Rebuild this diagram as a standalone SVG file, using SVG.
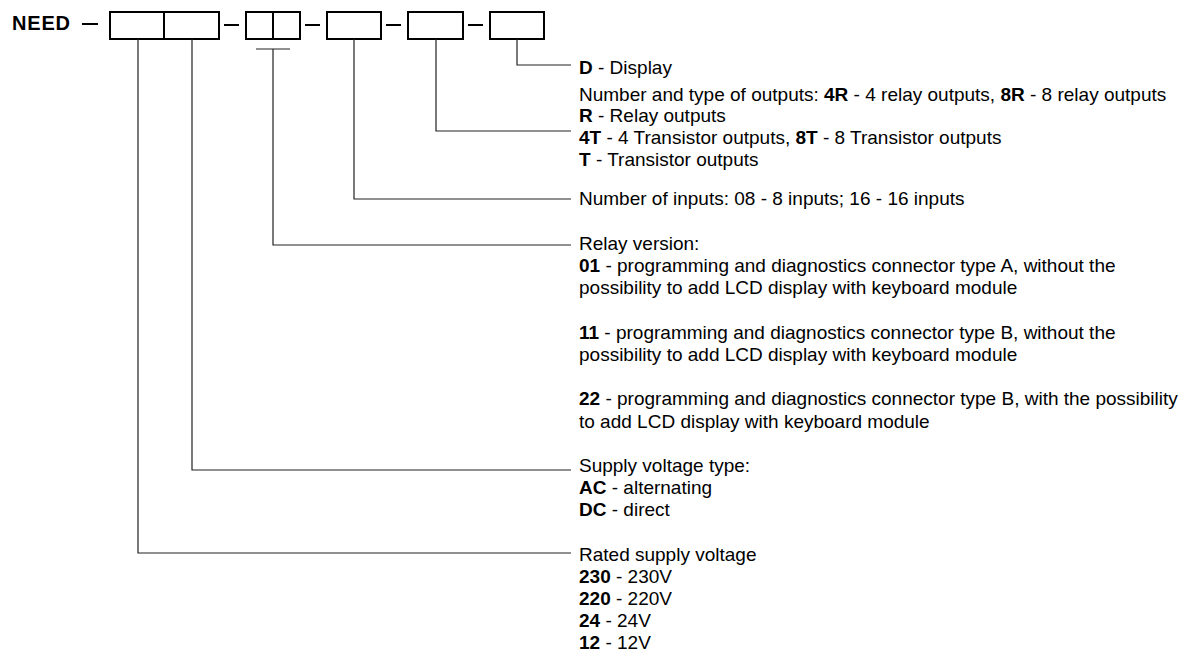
<svg xmlns="http://www.w3.org/2000/svg" width="1184" height="656" viewBox="0 0 1184 656">
<style>
.box{fill:none;stroke:#000;stroke-width:2}
.dash{stroke:#000;stroke-width:2}
.con{fill:none;stroke:#222;stroke-width:1.2}
text{font-family:"Liberation Sans",Arial,sans-serif;font-size:19px;fill:#000}
.b{font-weight:bold}
.title{font-size:20px;font-weight:bold;letter-spacing:0.8px}
</style>
<rect width="1184" height="656" fill="#fff"/>
<g id="title">
<text class="title" x="12" y="30">NEED</text>
<line class="dash" x1="82" y1="24" x2="98" y2="24"/>
</g>
<g id="box-voltage">
<rect class="box" x="110" y="12" width="54" height="27"/>
</g>
<g id="box-type">
<rect class="box" x="164" y="12" width="55" height="27"/>
</g>
<line class="dash" x1="224" y1="25" x2="239" y2="25"/>
<g id="box-relay">
<rect class="box" x="246" y="12" width="54" height="27"/>
<line class="box" x1="273" y1="12" x2="273" y2="39"/>
</g>
<line class="dash" x1="305" y1="25" x2="320" y2="25"/>
<g id="box-inputs">
<rect class="box" x="327" y="12" width="54" height="27"/>
</g>
<line class="dash" x1="386" y1="25" x2="401" y2="25"/>
<g id="box-outputs">
<rect class="box" x="408" y="12" width="55" height="27"/>
</g>
<line class="dash" x1="468" y1="25" x2="483" y2="25"/>
<g id="box-display">
<rect class="box" x="490" y="12" width="54" height="27"/>
</g>
<g id="connectors">
<polyline class="con" points="517,39 517,65 571,65"/>
<polyline class="con" points="436,39 436,131 571,131"/>
<polyline class="con" points="354,39 354,199 571,199"/>
<line class="con" x1="256" y1="49" x2="290" y2="49"/>
<polyline class="con" points="273,49 273,245 571,245"/>
<polyline class="con" points="192,39 192,470 571,470"/>
<polyline class="con" points="138,39 138,553 571,553"/>
</g>
<g id="desc-display">
<text x="579" y="74"><tspan class="b">D</tspan> - Display</text>
</g>
<g id="desc-outputs">
<text x="579" y="101">Number and type of outputs: <tspan class="b">4R</tspan> - 4 relay outputs, <tspan class="b">8R</tspan> - 8 relay outputs</text>
<text x="579" y="122"><tspan class="b">R</tspan> - Relay outputs</text>
<text x="579" y="144"><tspan class="b">4T</tspan> - 4 Transistor outputs, <tspan class="b">8T</tspan> - 8 Transistor outputs</text>
<text x="579" y="166"><tspan class="b">T</tspan> - Transistor outputs</text>
</g>
<g id="desc-inputs">
<text x="579" y="205">Number of inputs: 08 - 8 inputs; 16 - 16 inputs</text>
</g>
<g id="desc-relay">
<text x="579" y="250">Relay version:</text>
<text x="579" y="272"><tspan class="b">01</tspan> - programming and diagnostics connector type A, without the</text>
<text x="579" y="294">possibility to add LCD display with keyboard module</text>
<text x="579" y="339"><tspan class="b">11</tspan> - programming and diagnostics connector type B, without the</text>
<text x="579" y="361">possibility to add LCD display with keyboard module</text>
<text x="579" y="405"><tspan class="b">22</tspan> - programming and diagnostics connector type B, with the possibility</text>
<text x="579" y="428">to add LCD display with keyboard module</text>
</g>
<g id="desc-supply-type">
<text x="579" y="472">Supply voltage type:</text>
<text x="579" y="494"><tspan class="b">AC</tspan> - alternating</text>
<text x="579" y="516"><tspan class="b">DC</tspan> - direct</text>
</g>
<g id="desc-rated">
<text x="579" y="561">Rated supply voltage</text>
<text x="579" y="583"><tspan class="b">230</tspan> - 230V</text>
<text x="579" y="605"><tspan class="b">220</tspan> - 220V</text>
<text x="579" y="627"><tspan class="b">24</tspan> - 24V</text>
<text x="579" y="649"><tspan class="b">12</tspan> - 12V</text>
</g>
</svg>
